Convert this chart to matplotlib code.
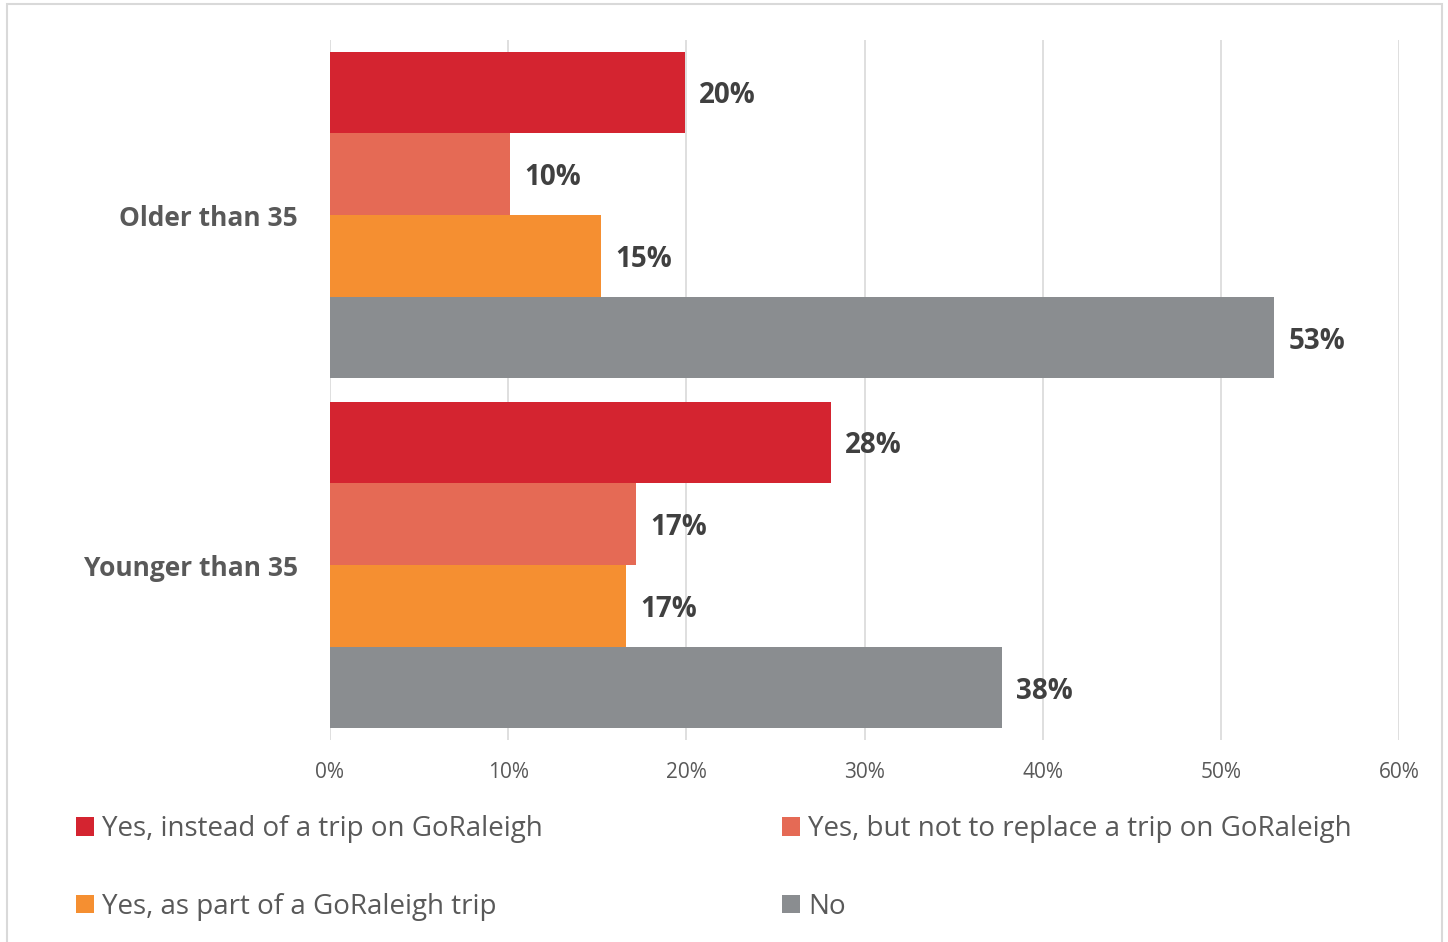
import matplotlib
matplotlib.use("Agg")
import matplotlib.pyplot as plt
import numpy as np
from matplotlib.patches import Rectangle

groups = ["Younger than 35", "Older than 35"]
series = [
    "Yes, instead of a trip on GoRaleigh",
    "Yes, but not to replace a trip on GoRaleigh",
    "Yes, as part of a GoRaleigh trip",
    "No",
]
# share of respondents, listed as [Younger, Older]
instead_of_trip = [0.281, 0.199]
not_replacing = [0.172, 0.101]
part_of_trip = [0.166, 0.152]
no_answer = [0.377, 0.530]
colors = ["#D42430", "#E56A55", "#F58F31", "#8A8D90"]
ticks = [0, 0.1, 0.2, 0.3, 0.4, 0.5, 0.6]

plt.rcParams['font.family'] = ['Open Sans', 'DejaVu Sans']

fig = plt.figure(figsize=(14.48, 9.42), dpi=100)
ax = fig.add_axes([330 / 1448, 1 - 740 / 942, (1399 - 330) / 1448, 700 / 942])

# light frame around the whole chart
fig.patches.append(Rectangle((7 / 1448, -0.01), 1435 / 1448, 1 - 4 / 942 + 0.01,
                             transform=fig.transFigure, fill=False,
                             ec="#d9d9d9", lw=1.5))

y = np.arange(len(groups))
h = 0.934 / 4
values = [instead_of_trip, not_replacing, part_of_trip, no_answer]
bars = []
for i, (vals, col, name) in enumerate(zip(values, colors, series)):
    b = ax.barh(y + (1.5 - i) * h, vals, height=h, color=col, label=name, zorder=2)
    bars.append(b)
    for rect, v in zip(b, vals):
        ax.text(v + 0.008, rect.get_y() + h / 2, f"{v:.0%}", va="center_baseline",
                ha="left", fontsize=20, fontweight="bold", color="#404040")

ax.set_xlim(0, 0.6)
ax.set_ylim(-0.5, 1.5)
ax.set_xticks(ticks)
ax.set_xticklabels([f"{t:.0%}" for t in ticks], fontsize=15, color="#595959")
ax.set_yticks(y)
ax.set_yticklabels(groups, fontsize=19, fontweight="bold", color="#595959")
ax.tick_params(axis="y", length=0, pad=23)
ax.tick_params(axis="x", length=0, pad=16)
ax.grid(axis="x", color="#d9d9d9", lw=1.2, zorder=0)
for s in ax.spines.values():
    s.set_visible(False)

order = [0, 2, 1, 3]
leg = fig.legend([bars[i] for i in order], [series[i] for i in order],
                 loc="upper left", bbox_to_anchor=(76 / 1448, 1 - 815 / 942),
                 ncol=2, frameon=False, fontsize=20, handlelength=0.65,
                 handleheight=0.65, handletextpad=0.29, labelspacing=1.79,
                 columnspacing=8.6, borderaxespad=0, borderpad=0)
for t in leg.get_texts():
    t.set_color("#595959")

fig.savefig("out.png", dpi=100)
